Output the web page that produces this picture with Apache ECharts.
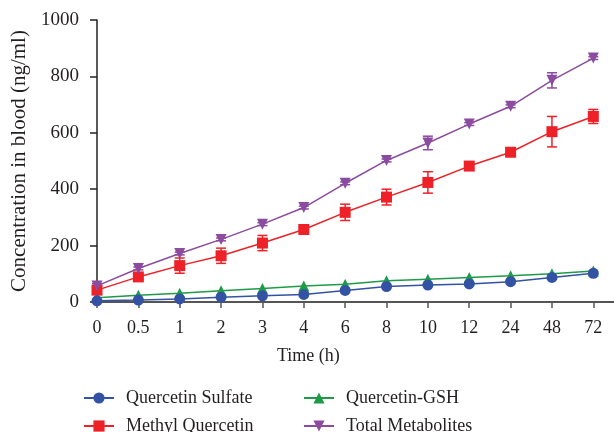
<!DOCTYPE html>
<html>
<head>
<meta charset="utf-8">
<script src="https://cdn.jsdelivr.net/npm/echarts@6/dist/echarts.min.js"></script>
<style>
html, body { margin: 0; padding: 0; background: #fff; }
#chart { width: 614px; height: 432px; }
</style>
</head>
<body>
<div id="chart"></div>
<script>
var hours = ['0', '0.5', '1', '2', '3', '4', '6', '8', '10', '12', '24', '48', '72'];
var yTicks = [0, 200, 400, 600, 800, 1000];

var sulfate = [4, 7, 11, 17, 22, 27, 41, 55, 60, 64, 72, 87, 102];
var gsh = [15, 24, 31, 40, 48, 57, 63, 75, 81, 87, 93, 100, 110];
var methyl = [42, 89, 129, 164, 209, 257, 318, 372, 424, 482, 531, 604, 658];
var methylErr = [8, 8, 27, 27, 27, 8, 29, 28, 38, 12, 8, 54, 25];
var total = [57, 119, 172, 222, 276, 335, 421, 502, 564, 631, 694, 786, 865];
var totalErr = [8, 5, 5, 5, 5, 5, 5, 5, 24, 5, 5, 27, 5];

var FONT = 'Liberation Serif';
var TXT = '#231f20';

var myChart = echarts.init(document.getElementById('chart'));

function pts(arr) {
	return arr.map(function(v, i) { return [i, v]; });
}
function errData(arr, err) {
	return arr.map(function(v, i) { return [i, v - err[i], v + err[i]]; });
}
function errSeries(name, arr, err, color) {
	return {
		name: name,
		type: 'custom',
		z: 1,
		silent: true,
		renderItem: function(params, api) {
			var x = api.value(0);
			var lo = api.coord([x, api.value(1)]);
			var hi = api.coord([x, api.value(2)]);
			var w = 5;
			var st = { stroke: color, lineWidth: 1.5 };
			return {
				type: 'group',
				children: [
					{ type: 'line', shape: { x1: lo[0], y1: lo[1], x2: hi[0], y2: hi[1] }, style: st },
					{ type: 'line', shape: { x1: lo[0] - w, y1: lo[1], x2: lo[0] + w, y2: lo[1] }, style: st },
					{ type: 'line', shape: { x1: hi[0] - w, y1: hi[1], x2: hi[0] + w, y2: hi[1] }, style: st }
				]
			};
		},
		encode: { x: 0, y: [1, 2] },
		data: errData(arr, err)
	};
}
function lineSeries(name, arr, color, symbol, rotate, z) {
	return {
		name: name,
		type: 'line',
		data: pts(arr),
		symbol: symbol,
		symbolSize: 11,
		symbolRotate: rotate,
		showAllSymbol: true,
		z: z,
		lineStyle: { color: color, width: 1.5 },
		itemStyle: { color: color }
	};
}
// one legend per entry so the 2x2 grid lines up
function legendItem(name, left, top) {
	return {
		left: left,
		top: top,
		itemWidth: 30,
		itemHeight: 14,
		textStyle: { fontFamily: FONT, fontSize: 18, color: TXT, padding: [0, 0, 0, 7] },
		data: [name]
	};
}

option = {
	animation: false,
	backgroundColor: '#fff',
	title: {
		text: 'Time (h)',
		left: 272,
		top: 342,
		textStyle: { fontFamily: FONT, fontSize: 18, fontWeight: 'normal', color: TXT }
	},
	legend: [
		legendItem('Quercetin Sulfate', 78, 384),
		legendItem('Methyl Quercetin', 78, 412),
		legendItem('Quercetin-GSH', 298, 384),
		legendItem('Total Metabolites', 298, 412)
	],
	grid: {
		left: 97,
		right: 0,
		top: 20,
		bottom: 130
	},
	xAxis: {
		type: 'value',
		min: 0,
		max: 12.5,
		interval: 1,
		splitLine: { show: false },
		axisLine: { lineStyle: { color: '#555', width: 2 } },
		axisTick: { length: 6, lineStyle: { color: '#555', width: 1.5 } },
		axisLabel: {
			margin: 17,
			showMaxLabel: false,
			fontFamily: FONT,
			fontSize: 18,
			color: TXT,
			formatter: function(v) { return hours[v] !== undefined ? hours[v] : ''; }
		}
	},
	yAxis: {
		type: 'value',
		min: yTicks[0],
		max: yTicks[yTicks.length - 1],
		interval: yTicks[1] - yTicks[0],
		name: 'Concentration in blood (ng/ml)',
		nameLocation: 'middle',
		nameGap: 59,
		nameTextStyle: { fontFamily: FONT, fontSize: 21, color: TXT },
		splitLine: { show: false },
		axisLine: { show: true, lineStyle: { color: '#222', width: 1.5 } },
		axisTick: { show: true, length: 7, lineStyle: { color: '#222', width: 1.5 } },
		axisLabel: {
			margin: 18,
			fontFamily: FONT,
			fontSize: 19,
			color: TXT,
			formatter: function(v) { return String(v); }
		}
	},
	series: [
		errSeries('err-methyl', methyl, methylErr, '#ed2127'),
		errSeries('err-total', total, totalErr, '#8b4b9e'),
		lineSeries('Quercetin-GSH', gsh, '#1f9a49', 'triangle', 0, 2),
		lineSeries('Methyl Quercetin', methyl, '#ed2127', 'rect', 0, 3),
		lineSeries('Total Metabolites', total, '#8b4b9e', 'triangle', 180, 4),
		lineSeries('Quercetin Sulfate', sulfate, '#3352a4', 'circle', 0, 5)
	]
};
myChart.setOption(option);
</script>
</body>
</html>
